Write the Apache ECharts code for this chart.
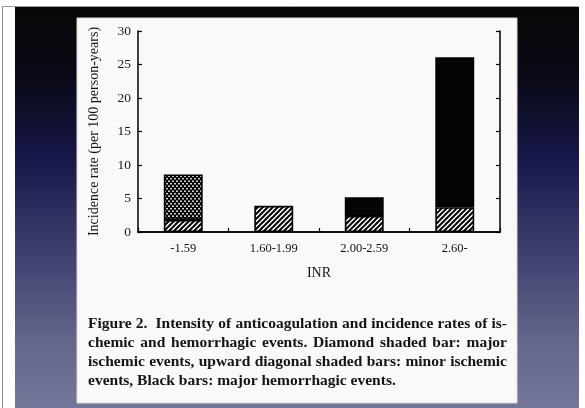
<!DOCTYPE html>
<html>
<head>
<meta charset="utf-8">
<style>
  html, body { margin: 0; padding: 0; background: #ffffff; }
  #chart { width: 585px; height: 408px; }
</style>
<script src="https://cdn.jsdelivr.net/npm/echarts@6/dist/echarts.min.js"></script>
</head>
<body>
<div id="chart"></div>
<script>
// INR ranges on the x axis
var categories = ['-1.59', '1.60-1.99', '2.00-2.59', '2.60-'];
// Incidence rate segments (per 100 person-years), stacked bottom to top
var minorIschemic = [1.8, 3.9, 2.4, 3.7];
var majorIschemic = [6.8, null, null, null];
var majorHemorrhagic = [null, null, 2.8, 22.4];
// Y axis range and step
var yMin = 0, yMax = 30, yStep = 5;

var captionLines = [
  'Figure 2.  Intensity of anticoagulation and incidence rates of is-',
  'chemic and hemorrhagic events. Diamond shaded bar: major',
  'ischemic events, upward diagonal shaded bars: minor ischemic',
  'events, Black bars: major hemorrhagic events.'
];

var SERIF = '"Liberation Serif", "Times New Roman", "DejaVu Serif", serif';
var INK = '#141414';

// Upward diagonal hatch tile
function diagonalTile() {
  var s = 5;
  var c = document.createElement('canvas');
  c.width = s; c.height = s;
  var g = c.getContext('2d');
  g.fillStyle = '#ffffff';
  g.fillRect(0, 0, s, s);
  g.strokeStyle = '#000000';
  g.lineWidth = 2;
  g.beginPath();
  g.moveTo(-1, s + 1); g.lineTo(s + 1, -1);
  g.moveTo(-1, 1); g.lineTo(1, -1);
  g.moveTo(s - 1, s + 1); g.lineTo(s + 1, s - 1);
  g.stroke();
  return c;
}

// Diamond crosshatch tile: black field with white holes
function diamondTile() {
  var w = 4, h = 5;
  var c = document.createElement('canvas');
  c.width = w; c.height = h;
  var g = c.getContext('2d');
  g.fillStyle = '#000000';
  g.fillRect(0, 0, w, h);
  g.fillStyle = '#ffffff';
  g.beginPath(); g.arc(1, 1.2, 0.9, 0, Math.PI * 2); g.fill();
  g.beginPath(); g.arc(3, 3.7, 0.9, 0, Math.PI * 2); g.fill();
  return c;
}

// Justified caption, laid out word by word (a double space keeps its extra width)
function captionElements() {
  var font = 'bold 15.5px ' + SERIF;
  var ctx = document.createElement('canvas').getContext('2d');
  ctx.font = font;
  var left = 88, right = 507, top = 324, step = 19;
  var space = ctx.measureText(' ').width;
  var els = [];
  captionLines.forEach(function (line, i) {
    var tokens = line.split(' ');
    var words = [], extra = [];
    tokens.forEach(function (t) {
      if (t === '') { extra[words.length - 1] = (extra[words.length - 1] || 0) + space; }
      else { words.push(t); }
    });
    var y = top + i * step;
    var widths = words.map(function (w) { return ctx.measureText(w).width; });
    var extraTotal = extra.reduce(function (a, b) { return a + (b || 0); }, 0);
    var total = widths.reduce(function (a, b) { return a + b; }, 0) + extraTotal;
    var gaps = words.length - 1;
    var justify = i < captionLines.length - 1;
    var gap = justify ? (right - left - total) / gaps : space;
    var x = left;
    words.forEach(function (w, k) {
      els.push({
        type: 'text', z: 5, x: x, y: y,
        style: { text: w, font: font, fill: INK, textVerticalAlign: 'middle', textAlign: 'left' }
      });
      x += widths[k] + gap + (extra[k] || 0);
    });
  });
  return els;
}

var chart = echarts.init(document.getElementById('chart'), null, { renderer: 'canvas' });

var barBorder = { borderColor: '#000000', borderWidth: 1.6 };

var option = {
  animation: false,
  backgroundColor: '#ffffff',
  graphic: {
    elements: [
      { type: 'rect', z: -20, shape: { x: 15, y: 7, width: 564, height: 401 },
        style: { fill: new echarts.graphic.LinearGradient(0, 0, 0, 1, [
          { offset: 0, color: '#070707' },
          { offset: 0.18, color: '#0a0a18' },
          { offset: 0.38, color: '#17174a' },
          { offset: 0.62, color: '#404070' },
          { offset: 0.82, color: '#62648a' },
          { offset: 1, color: '#74769a' }
        ]) } },
      { type: 'line', z: -19, shape: { x1: 2.5, y1: 7, x2: 2.5, y2: 408 }, style: { stroke: '#8a8a8a', lineWidth: 1 } },
      { type: 'line', z: -19, shape: { x1: 2, y1: 6.5, x2: 579, y2: 6.5 }, style: { stroke: '#9a9a9a', lineWidth: 1 } },
      { type: 'rect', z: -18, shape: { x: 77, y: 18, width: 440, height: 385 },
        style: { fill: '#f9f9f7', stroke: '#d8d8d8', lineWidth: 1 } }
    ].concat(captionElements())
  },
  grid: { left: 138, right: 85, top: 31, bottom: 176, containLabel: false },
  xAxis: [
    {
      type: 'category', data: categories, position: 'bottom',
      name: 'INR', nameLocation: 'middle', nameGap: 34,
      nameTextStyle: { fontFamily: SERIF, fontSize: 14, color: INK },
      axisLine: { show: true, lineStyle: { color: '#000', width: 1.5 } },
      axisTick: { show: true, inside: true, length: 4, alignWithLabel: false, lineStyle: { color: '#000', width: 1.2 } },
      axisLabel: { fontFamily: SERIF, fontSize: 12.5, color: INK, margin: 10 },
      splitLine: { show: false }
    },
    {
      type: 'category', data: categories, position: 'top',
      axisLine: { show: true, lineStyle: { color: '#000', width: 1.5 } },
      axisTick: { show: false }, axisLabel: { show: false }, splitLine: { show: false }
    }
  ],
  yAxis: [
    {
      type: 'value', min: yMin, max: yMax, interval: yStep, position: 'left',
      name: 'Incidence rate (per 100 person-years)', nameLocation: 'middle', nameGap: 37, nameRotate: 90,
      nameTextStyle: { fontFamily: SERIF, fontSize: 14, color: INK },
      axisLine: { show: true, lineStyle: { color: '#000', width: 1.5 } },
      axisTick: { show: true, inside: true, length: 4, lineStyle: { color: '#000', width: 1.2 } },
      axisLabel: { fontFamily: SERIF, fontSize: 13.5, color: INK, margin: 7 },
      splitLine: { show: false }
    },
    {
      type: 'value', min: yMin, max: yMax, interval: yStep, position: 'right',
      axisLine: { show: true, lineStyle: { color: '#000', width: 1.5 } },
      axisTick: { show: true, inside: true, length: 4, lineStyle: { color: '#000', width: 1.2 } },
      axisLabel: { show: false }, splitLine: { show: false }
    }
  ],
  series: [
    {
      name: 'Minor ischemic events', type: 'bar', stack: 'rate', barWidth: '43%',
      data: minorIschemic,
      itemStyle: Object.assign({ color: { image: diagonalTile(), repeat: 'repeat' } }, barBorder)
    },
    {
      name: 'Major ischemic events', type: 'bar', stack: 'rate', barWidth: '43%',
      data: majorIschemic,
      itemStyle: Object.assign({ color: { image: diamondTile(), repeat: 'repeat' } }, barBorder)
    },
    {
      name: 'Major hemorrhagic events', type: 'bar', stack: 'rate', barWidth: '43%',
      data: majorHemorrhagic,
      itemStyle: Object.assign({ color: '#050505' }, barBorder)
    }
  ]
};

chart.setOption(option);
</script>
</body>
</html>
